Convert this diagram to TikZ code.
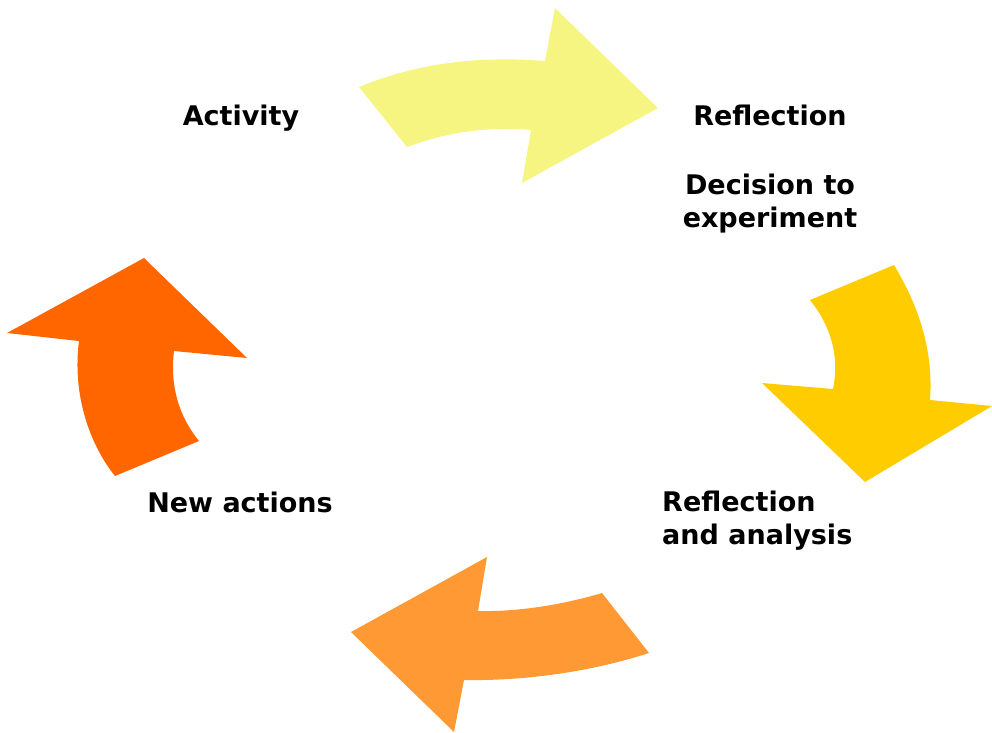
\documentclass[tikz,border=0pt]{standalone}
\usepackage{fontspec}
\setsansfont{DejaVu Sans}
\usepackage{tikz}
\usetikzlibrary{positioning}
\definecolor{paleyellow}{HTML}{F7F582}
\definecolor{gold}{HTML}{FFCC00}
\definecolor{lightorange}{HTML}{FF9933}
\definecolor{darkorange}{HTML}{FF6600}
\tikzset{stagelabel/.style={font=\sffamily\bfseries\fontsize{27}{33}\selectfont, inner sep=0pt, align=center}}
\tikzset{blockarrow/.style={draw=none}}

\begin{document}
\begin{tikzpicture}[x=1pt,y=-1pt]
    \useasboundingbox (0,0) rectangle (992,732);

    \node[stagelabel, anchor=base]       (activity)   at (241,125)  {Activity};
    \node[stagelabel, anchor=base]       (reflect)    at (770,125)  {Reflection};
    \node[stagelabel, anchor=north]      (decide)     [below=48pt of reflect]  {Decision to\\experiment};
    \node[stagelabel, anchor=north west, align=left] (analyse) at (662,491) {Reflection\\and analysis};
    \node[stagelabel, anchor=base]       (newaction)  at (240,512)  {New actions};

    \fill[blockarrow, paleyellow] (359,87) .. controls (420,62) and (480,56) .. (545,61) -- (555,8) -- (658,108)
        -- (522,183) -- (531,130) .. controls (485,126) and (445,133) .. (407,147) -- cycle;
    \fill[blockarrow, gold] (894,265) .. controls (915,300) and (934,345) .. (930,400) -- (992,406) -- (865,482)
        -- (762,383) -- (833,389) .. controls (840,355) and (830,325) .. (810,300) -- cycle;
    \fill[blockarrow, lightorange] (649,653) .. controls (590,672) and (525,681) .. (464,680) -- (454,732) -- (351,632)
        -- (487,557) -- (478,611) .. controls (520,612) and (565,604) .. (602,593) -- cycle;
    \fill[blockarrow, darkorange] (115,476) .. controls (90,445) and (72,395) .. (79,341) -- (7,333) -- (144,258)
        -- (247,358) -- (174,351) .. controls (170,385) and (178,415) .. (199,441) -- cycle;
\end{tikzpicture}
\end{document}
